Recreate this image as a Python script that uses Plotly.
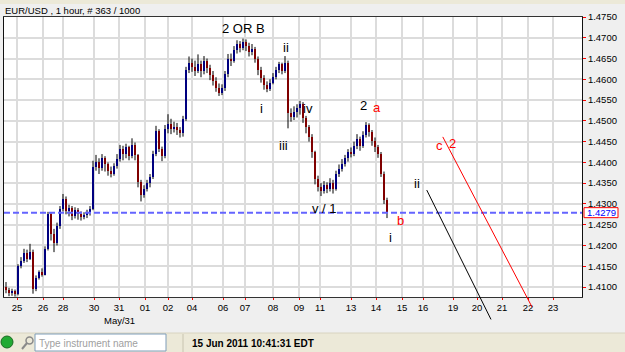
import plotly.graph_objects as go

# ---------------- data ----------------
first_open = 1.4100
closes = [1.4092, 1.4085, 1.4090, 1.4083, 1.4150, 1.4162, 1.4182, 1.4168, 1.4185, 1.4095,
          1.4122, 1.4135, 1.4130, 1.4192, 1.4276, 1.4228, 1.4205, 1.4248, 1.4288, 1.4312,
          1.4284, 1.4290, 1.4270, 1.4286, 1.4275, 1.4268, 1.4273, 1.4280, 1.4288, 1.4390,
          1.4402, 1.4386, 1.4410, 1.4395, 1.4380, 1.4372, 1.4392, 1.4408, 1.4432, 1.4420,
          1.4436, 1.4415, 1.4442, 1.4418, 1.4352, 1.4322, 1.4336, 1.4350, 1.4365, 1.4420,
          1.4475, 1.4432, 1.4415, 1.4480, 1.4492, 1.4480, 1.4486, 1.4478, 1.4470, 1.4505,
          1.4622, 1.4640, 1.4630, 1.4620, 1.4638, 1.4620, 1.4645, 1.4628, 1.4610, 1.4595,
          1.4580, 1.4568, 1.4578, 1.4612, 1.4650, 1.4645, 1.4670, 1.4686, 1.4675, 1.4690,
          1.4680, 1.4665, 1.4672, 1.4650, 1.4622, 1.4602, 1.4586, 1.4576, 1.4592, 1.4606,
          1.4622, 1.4636, 1.4620, 1.4640, 1.4520, 1.4510, 1.4522, 1.4530, 1.4540, 1.4508,
          1.4485, 1.4462, 1.4425, 1.4360, 1.4342, 1.4330, 1.4346, 1.4335, 1.4350, 1.4336,
          1.4372, 1.4385, 1.4396, 1.4410, 1.4425, 1.4420, 1.4440, 1.4456, 1.4440, 1.4466,
          1.4490, 1.4472, 1.4452, 1.4436, 1.4420, 1.4372, 1.4310, 1.4279]
highs = [1.4112, 1.4098, 1.4096, 1.4094, 1.4155, 1.4172, 1.4192, 1.4190, 1.4204, 1.4190,
         1.4128, 1.4140, 1.4145, 1.4198, 1.4281, 1.4280, 1.4240, 1.4255, 1.4295, 1.4324,
         1.4318, 1.4298, 1.4295, 1.4292, 1.4290, 1.4282, 1.4280, 1.4286, 1.4295, 1.4404,
         1.4418, 1.4410, 1.4420, 1.4415, 1.4400, 1.4390, 1.4398, 1.4420, 1.4442, 1.4440,
         1.4445, 1.4440, 1.4458, 1.4448, 1.4420, 1.4358, 1.4345, 1.4358, 1.4372, 1.4428,
         1.4488, 1.4480, 1.4438, 1.4490, 1.4516, 1.4505, 1.4498, 1.4495, 1.4485, 1.4512,
         1.4630, 1.4655, 1.4650, 1.4645, 1.4660, 1.4645, 1.4656, 1.4650, 1.4635, 1.4620,
         1.4605, 1.4590, 1.4588, 1.4620, 1.4661, 1.4662, 1.4680, 1.4694, 1.4692, 1.4698,
         1.4696, 1.4688, 1.4685, 1.4678, 1.4655, 1.4630, 1.4610, 1.4595, 1.4600, 1.4615,
         1.4630, 1.4642, 1.4640, 1.4656, 1.4645, 1.4530, 1.4535, 1.4540, 1.4548, 1.4545,
         1.4512, 1.4490, 1.4468, 1.4428, 1.4368, 1.4350, 1.4355, 1.4352, 1.4362, 1.4358,
         1.4380, 1.4395, 1.4408, 1.4418, 1.4432, 1.4436, 1.4450, 1.4468, 1.4462, 1.4475,
         1.4497, 1.4494, 1.4478, 1.4460, 1.4442, 1.4425, 1.4378, 1.4315]
lows = [1.4085, 1.4078, 1.4079, 1.4077, 1.4080, 1.4145, 1.4158, 1.4160, 1.4165, 1.4084,
        1.4090, 1.4118, 1.4125, 1.4128, 1.4188, 1.4212, 1.4184, 1.4200, 1.4240, 1.4282,
        1.4275, 1.4270, 1.4261, 1.4265, 1.4262, 1.4260, 1.4263, 1.4266, 1.4272, 1.4285,
        1.4380, 1.4372, 1.4380, 1.4378, 1.4368, 1.4364, 1.4368, 1.4385, 1.4402, 1.4405,
        1.4410, 1.4405, 1.4410, 1.4405, 1.4340, 1.4306, 1.4315, 1.4330, 1.4340, 1.4360,
        1.4415, 1.4425, 1.4403, 1.4410, 1.4470, 1.4468, 1.4472, 1.4466, 1.4460, 1.4462,
        1.4500, 1.4615, 1.4618, 1.4608, 1.4615, 1.4605, 1.4612, 1.4615, 1.4598, 1.4585,
        1.4570, 1.4560, 1.4562, 1.4572, 1.4605, 1.4632, 1.4640, 1.4662, 1.4665, 1.4670,
        1.4668, 1.4655, 1.4658, 1.4640, 1.4610, 1.4592, 1.4575, 1.4569, 1.4572, 1.4588,
        1.4600, 1.4615, 1.4612, 1.4615, 1.4482, 1.4498, 1.4502, 1.4508, 1.4515, 1.4495,
        1.4470, 1.4450, 1.4411, 1.4347, 1.4330, 1.4319, 1.4325, 1.4326, 1.4330, 1.4325,
        1.4332, 1.4365, 1.4378, 1.4390, 1.4402, 1.4412, 1.4415, 1.4432, 1.4428, 1.4435,
        1.4460, 1.4462, 1.4440, 1.4425, 1.4411, 1.4365, 1.4300, 1.4266]
opens = [first_open] + closes[:-1]
bar_hours = list(range(2, 386, 3))          # trading-hour index of each bar

day_ticks = [13, 39, 59, 90, 115, 141, 164, 188, 219, 241, 269, 295, 316, 347,
             372, 398, 419, 449, 473, 498, 524, 549]
day_labels = ['25', '26', '28', '30', '31', '01', '02', '04', '06', '07', '08',
              '09', '11', '13', '14', '15', '16', '19', '20', '21', '22', '23']

last_price = 1.4279

wave_text = ['2 OR B', 'ii', 'i', 'iv', 'iii', '2', 'a', 'v / 1', 'b', 'i', 'ii', 'c', '2']
wave_x = [239, 282, 257, 304, 279, 359, 373, 320, 396, 386, 413, 435, 448]
wave_y = [1.4723, 1.4677, 1.4530, 1.4530, 1.4441, 1.4537, 1.4532, 1.4289, 1.4260,
          1.4220, 1.4349, 1.4441, 1.4446]
wave_color = ['black', 'black', 'black', 'black', 'black', 'black', 'red', 'black',
              'red', 'black', 'black', 'red', 'red']

# projection lines: start (x, price) -> end (x, price)
black_line_x = [422, 487]
black_line_y = [1.4337, 1.4022]
red_line_x = [438, 528]
red_line_y = [1.4465, 1.4052]

FONT = 'Liberation Sans, Arial, sans-serif'

# ---------------- figure ----------------
wick_x, wick_y = [], []
for x, h, l in zip(bar_hours, highs, lows):
    wick_x += [x, x, None]
    wick_y += [l, h, None]

body_base = [min(o, c) for o, c in zip(opens, closes)]
body_len = [abs(c - o) for o, c in zip(opens, closes)]
body_col = ['#0000ff' if c >= o else '#ff0000' for o, c in zip(opens, closes)]

fig = go.Figure()
fig.add_trace(go.Scatter(x=wick_x, y=wick_y, mode='lines',
                         line=dict(color='black', width=1), hoverinfo='skip'))
fig.add_trace(go.Bar(x=bar_hours, y=body_len, base=body_base, width=2,
                     marker=dict(color=body_col, line=dict(width=0))))

L, T, W, H = 4, 17, 578, 280


def px(x):
    return (x - L) / W


def py(y):
    return (T + H - y) / H


shapes = []
# current price dashed line
shapes.append(dict(type='line', xref='paper', x0=0, x1=1, yref='y', y0=last_price,
                   y1=last_price, line=dict(color='#6464ff', width=2, dash='6px,3px'),
                   layer='above'))
# current price box on the axis
shapes.append(dict(type='rect', xref='paper', x0=px(584), x1=px(618), yref='y',
                   ysizemode='pixel', yanchor=last_price, y0=-5, y1=5,
                   fillcolor='white', line=dict(color='red', width=1), layer='above'))
# top strip
shapes.append(dict(type='rect', xref='paper', yref='paper', x0=px(0), x1=px(625),
                   y0=py(4), y1=py(0), fillcolor='#ece9d8', line=dict(width=0)))
# bottom status strip
shapes.append(dict(type='rect', xref='paper', yref='paper', x0=px(0), x1=px(625),
                   y0=py(352), y1=py(333), fillcolor='#ece9d8', line=dict(width=0)))
shapes.append(dict(type='line', xref='paper', yref='paper', x0=px(0), x1=px(625),
                   y0=py(333), y1=py(333), line=dict(color='#d8d4c0', width=1)))
# green status light
shapes.append(dict(type='circle', xref='paper', yref='paper', x0=px(1), x1=px(13),
                   y0=py(348), y1=py(336), fillcolor='#22aa33',
                   line=dict(color='#1b6b22', width=1)))
# magnifier icon
shapes.append(dict(type='circle', xref='paper', yref='paper', x0=px(26), x1=px(33),
                   y0=py(344), y1=py(337), fillcolor='rgba(0,0,0,0)',
                   line=dict(color='#8a8a8a', width=1.5)))
shapes.append(dict(type='line', xref='paper', yref='paper', x0=px(22), x1=px(27),
                   y0=py(349), y1=py(343), line=dict(color='#8a8a8a', width=2)))
# instrument text box
shapes.append(dict(type='rect', xref='paper', yref='paper', x0=px(35), x1=px(166),
                   y0=py(351), y1=py(334), fillcolor='white',
                   line=dict(color='#7f9db9', width=1)))
shapes.append(dict(type='line', xref='paper', yref='paper', x0=px(183), x1=px(183),
                   y0=py(352), y1=py(334), line=dict(color='#c8c4b0', width=1)))

annotations = []
for t, x, y, c in zip(wave_text, wave_x, wave_y, wave_color):
    annotations.append(dict(x=x, y=y, xref='x', yref='y', text=t, showarrow=False,
                            font=dict(family=FONT, size=13, color=c)))

for lx, ly, col in [(black_line_x, black_line_y, 'black'), (red_line_x, red_line_y, 'red')]:
    annotations.append(dict(x=lx[1], y=ly[1], xref='x', yref='y',
                            ax=lx[0], ay=ly[0], axref='x', ayref='y', text='',
                            showarrow=True, arrowhead=0, arrowwidth=1, arrowcolor=col,
                            standoff=0, startstandoff=0))

annotations.append(dict(x=px(601), xref='paper', xanchor='center', y=last_price, yref='y',
                        yanchor='middle', text=f'{last_price:.4f}', showarrow=False,
                        height=9, borderpad=0, valign='middle',
                        font=dict(family=FONT, size=9.5, color='#0000ff')))
annotations.append(dict(x=115, xref='x', y=py(320), yref='paper', yanchor='middle',
                        text='May/31', showarrow=False,
                        font=dict(family=FONT, size=9.5, color='black')))
annotations.append(dict(x=px(3), y=py(10), xref='paper', yref='paper', xanchor='left',
                        yanchor='middle', text='EUR/USD , 1 hour, # 363 / 1000',
                        showarrow=False, font=dict(family=FONT, size=9.5, color='black')))
annotations.append(dict(x=px(37), y=py(343), xref='paper', yref='paper', xanchor='left',
                        yanchor='middle', text='Type instrument name', showarrow=False,
                        font=dict(family=FONT, size=10, color='#a0a0a0')))
annotations.append(dict(x=px(190), y=py(343), xref='paper', yref='paper', xanchor='left',
                        yanchor='middle', text='<b>15 Jun 2011 10:41:31 EDT</b>',
                        showarrow=False, font=dict(family=FONT, size=10, color='black')))

fig.update_layout(
    width=625, height=352,
    margin=dict(l=L, r=625 - L - W, t=T, b=352 - T - H),
    paper_bgcolor='#efefef', plot_bgcolor='white',
    showlegend=False, bargap=0,
    font=dict(family=FONT, size=10, color='black'),
    shapes=shapes, annotations=annotations,
    xaxis=dict(range=[0, 578], tickmode='array', tickvals=day_ticks, ticktext=day_labels,
               ticks='outside', ticklen=2, tickcolor='red', showgrid=True,
               gridcolor='#dcdcdc', gridwidth=2, showline=True, linecolor='#333333',
               linewidth=1, mirror=True, zeroline=False,
               tickfont=dict(family=FONT, size=9.5, color='black'), fixedrange=True),
    yaxis=dict(range=[1.4076, 1.4750], side='right', tick0=1.41, dtick=0.005,
               tickformat='.4f', ticks='outside', ticklen=3, tickcolor='red',
               showgrid=True, gridcolor='#dcdcdc', gridwidth=2, showline=True,
               linecolor='#111111', linewidth=1, mirror=True, zeroline=False,
               tickfont=dict(family=FONT, size=9.5, color='black'), fixedrange=True),
)

fig.write_html('out.html')
